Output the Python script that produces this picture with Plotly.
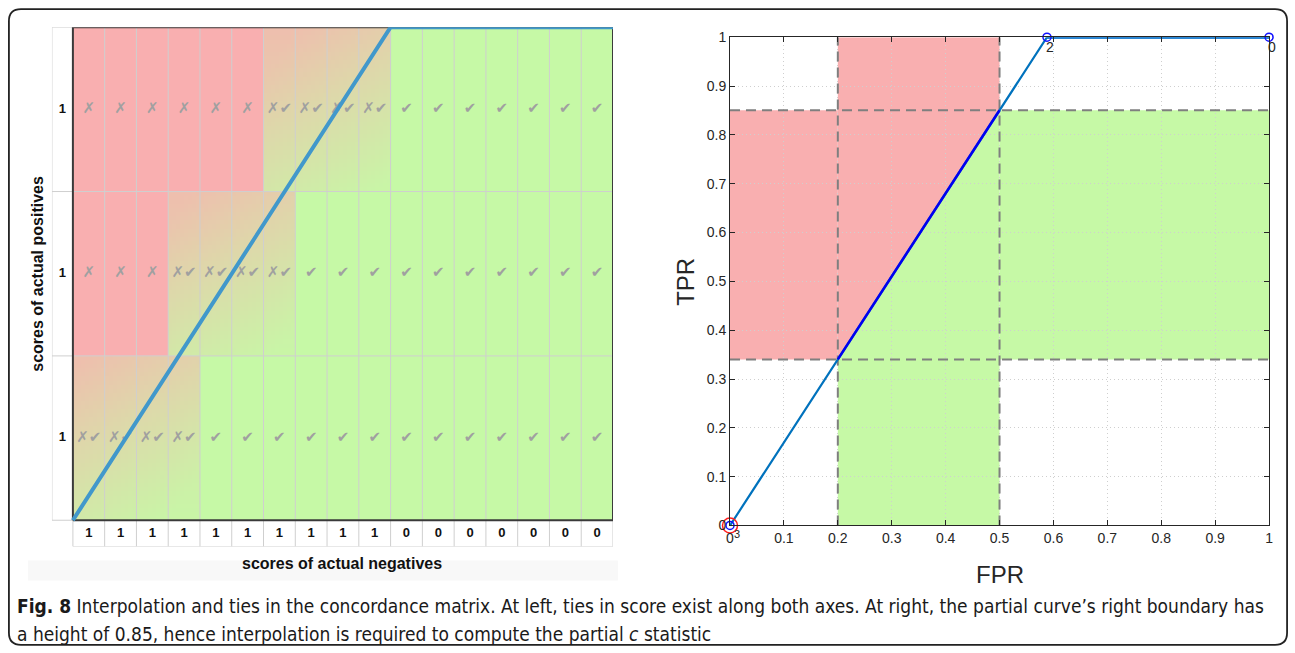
import numpy as np
import plotly.graph_objects as go

# ---------------- data ----------------
neg_scores = [1, 1, 1, 1, 1, 1, 1, 1, 1, 1, 0, 0, 0, 0, 0, 0, 0]
pos_scores = [1, 1, 1]
marks_top = ["✗", "✗", "✗", "✗", "✗", "✗", "✗✔", "✗✔", "✗✔", "✗✔",
             "✔", "✔", "✔", "✔", "✔", "✔", "✔"]
marks_middle = ["✗", "✗", "✗", "✗✔", "✗✔", "✗✔", "✗✔", "✔", "✔", "✔",
                "✔", "✔", "✔", "✔", "✔", "✔", "✔"]
marks_bottom = ["✗✔", "✗✔", "✗✔", "✗✔", "✔", "✔", "✔", "✔", "✔", "✔",
                "✔", "✔", "✔", "✔", "✔", "✔", "✔"]

roc_fpr = [0.0, 0.588, 1.0]
roc_tpr = [0.0, 1.0, 1.0]
roc_labels = ["3", "2", "0"]
fpr_range = [0.2, 0.5]

W, H = 1295, 653
SX, SY = 0.9937, 0.973          # compensation for the capture scaling
CX, CY = 648.0, 327.5
def px(x): return (CX + (x - CX) / SX) / W
def py(y): return 1 - (CY + (y - CY) / SY) / H

RED = "#F9AFB0"
GREEN = "#C6F9A6"
TAN = "#DED7AA"

fig = go.Figure()

# ---------------- left: concordance matrix ----------------
ncol, nrow = len(neg_scores), len(pos_scores)
rows_marks = [marks_bottom, marks_middle, marks_top]  # bottom -> top
cell_w_px = (613 - 52) / (ncol + 0.66)
cell_h_px = (546 - 28) / (nrow + 0.16)

# concordance path (ties -> diagonal)
thresholds = sorted(set(neg_scores + pos_scores), reverse=True)
path_x, path_y = [0], [0]
for t in thresholds:
    path_x.append(sum(1 for s in neg_scores if s >= t))
    path_y.append(sum(1 for s in pos_scores if s >= t))
tie_x, tie_y = path_x[1], path_y[1]

nsx, nsy = 8, 40
xs = (np.arange(ncol * nsx) + 0.5) / nsx
ys = (np.arange(nrow * nsy) + 0.5) / nsy
lx, ly = tie_x * cell_w_px, tie_y * cell_h_px
norm = np.hypot(lx, ly)
z = np.zeros((len(ys), len(xs)))
for j, v in enumerate(ys):
    r = int(v)
    for i, u in enumerate(xs):
        c = int(u)
        m = rows_marks[r][c]
        if m == "✗":
            z[j, i] = 0.0
        elif m == "✔":
            z[j, i] = 1.0
        else:
            d = (u * cell_w_px * ly - v * cell_h_px * lx) / norm
            zd = np.clip(0.5 + d / 160, 0, 1)
            f = v - r
            zv = 0.92 - 0.6 * f
            z[j, i] = 0.4 * zd + 0.6 * zv

fig.add_trace(go.Heatmap(
    x=xs, y=ys, z=z, zmin=0, zmax=1,
    colorscale=[[0, RED], [0.5, TAN], [1, GREEN]], showscale=False,
    hoverinfo="skip", xaxis="x", yaxis="y"))

# light grid lines
gx, gy = [], []
for i in range(1, ncol + 1):
    gx += [i, i, None]; gy += [-0.16, nrow, None]
for r in range(1, nrow):
    gx += [-0.66, ncol, None]; gy += [r, r, None]
gx += [-0.66, -0.66, None, -0.66, 0, None, -0.66, 0, None, 0, ncol, None, 0, 0, None]
gy += [0, nrow, None, nrow, nrow, None, 0, 0, None, -0.16, -0.16, None, -0.16, 0, None]
fig.add_trace(go.Scatter(x=gx, y=gy, mode="lines", line=dict(color="#CFCFCF", width=1),
                         hoverinfo="skip", showlegend=False, xaxis="x", yaxis="y",
                         cliponaxis=False))
# dark border
fig.add_trace(go.Scatter(x=[0, ncol, ncol, 0, 0], y=[0, 0, nrow, nrow, 0], mode="lines",
                         line=dict(color="#3A3A3A", width=2), hoverinfo="skip",
                         showlegend=False, xaxis="x", yaxis="y", cliponaxis=False))

# cell marks
mx, my, mt = [], [], []
for r in range(nrow):
    for c in range(ncol):
        mx.append(c + 0.5); my.append(r + 0.5); mt.append(rows_marks[r][c])
fig.add_trace(go.Scatter(x=mx, y=my, text=mt, mode="text",
                         textfont=dict(family="DejaVu Sans", size=15, color="#A0A0A0"),
                         hoverinfo="skip", showlegend=False, xaxis="x", yaxis="y"))

# score labels
fig.add_trace(go.Scatter(x=[c + 0.5 for c in range(ncol)], y=[-0.08] * ncol,
                         text=[f"<b>{s}</b>" for s in neg_scores], mode="text",
                         textfont=dict(family="Liberation Sans", size=13, color="#111111"),
                         hoverinfo="skip", showlegend=False, xaxis="x", yaxis="y",
                         cliponaxis=False))
fig.add_trace(go.Scatter(x=[-0.33] * nrow, y=[r + 0.5 for r in range(nrow)],
                         text=[f"<b>{s}</b>" for s in pos_scores], mode="text",
                         textfont=dict(family="Liberation Sans", size=13, color="#111111"),
                         hoverinfo="skip", showlegend=False, xaxis="x", yaxis="y",
                         cliponaxis=False))

# path line
fig.add_trace(go.Scatter(x=path_x, y=path_y, mode="lines",
                         line=dict(color="#4198CB", width=4),
                         hoverinfo="skip", showlegend=False, xaxis="x", yaxis="y",
                         cliponaxis=False))

# ---------------- right: ROC ----------------
tpr_range = [float(np.interp(f, roc_fpr, roc_tpr)) for f in fpr_range]
f0, f1 = fpr_range
t0, t1 = tpr_range
shapes = []
def poly(pts, color):
    p = "M " + " L ".join(f"{a},{b}" for a, b in pts) + " Z"
    shapes.append(dict(type="path", path=p, xref="x2", yref="y2", fillcolor=color,
                       line=dict(width=0), layer="below"))
poly([(0, t0), (f0, t0), (f0, t1), (0, t1)], RED)
poly([(f0, t0), (f1, t1), (f1, 1), (f0, 1)], RED)
poly([(f0, 0), (f1, 0), (f1, t1), (f0, t0)], GREEN)
poly([(f1, t0), (1, t0), (1, t1), (f1, t1)], GREEN)

# dashed boundaries
dx = [f0, f0, None, f1, f1, None, 0, 1, None, 0, 1]
dy = [0, 1, None, 0, 1, None, t0, t0, None, t1, t1]
fig.add_trace(go.Scatter(x=dx, y=dy, mode="lines",
                         line=dict(color="#7F7F7F", width=2, dash="10px,6px"),
                         hoverinfo="skip", showlegend=False, xaxis="x2", yaxis="y2"))

# ROC curve
fig.add_trace(go.Scatter(x=roc_fpr, y=roc_tpr, mode="lines",
                         line=dict(color="#0072BD", width=2.2),
                         hoverinfo="skip", showlegend=False, xaxis="x2", yaxis="y2",
                         cliponaxis=False))
fig.add_trace(go.Scatter(x=roc_fpr[1:], y=roc_tpr[1:], mode="lines",
                         line=dict(color="#2A86D4", width=3.4),
                         hoverinfo="skip", showlegend=False, xaxis="x2", yaxis="y2",
                         cliponaxis=False))
fig.add_trace(go.Scatter(x=fpr_range, y=tpr_range, mode="lines",
                         line=dict(color="#0000F0", width=2.6),
                         hoverinfo="skip", showlegend=False, xaxis="x2", yaxis="y2"))
fig.add_trace(go.Scatter(x=roc_fpr[:1], y=roc_tpr[:1], mode="markers",
                         marker=dict(symbol="circle-open", size=15, color="#FF2020",
                                     line=dict(width=1.5)),
                         hoverinfo="skip", showlegend=False, xaxis="x2", yaxis="y2",
                         cliponaxis=False))
fig.add_trace(go.Scatter(x=roc_fpr, y=roc_tpr, mode="markers",
                         marker=dict(symbol="circle-open", size=8, color="#1010FF",
                                     line=dict(width=1.5)),
                         hoverinfo="skip", showlegend=False, xaxis="x2", yaxis="y2",
                         cliponaxis=False))

annotations = []
for fx, ty, lab in zip(roc_fpr, roc_tpr, roc_labels):
    small = fx == roc_fpr[0]
    annotations.append(dict(text=lab, x=fx, y=ty, xref="x2", yref="y2", showarrow=False,
                            xanchor="center", yanchor="middle",
                            xshift=7 if small else 3, yshift=-9 if small else -10,
                            font=dict(family="Liberation Sans", size=11 if small else 14,
                                      color="#262626")))

# outer rounded border & gray band
x0, x1, y0, y1, rr = 9, 1287, 10, 644, 12
def P(x, y): return f"{px(x)},{py(y)}"
border = (f"M {P(x0 + rr, y0)} L {P(x1 - rr, y0)} Q {P(x1, y0)} {P(x1, y0 + rr)} "
          f"L {P(x1, y1 - rr)} Q {P(x1, y1)} {P(x1 - rr, y1)} L {P(x0 + rr, y1)} "
          f"Q {P(x0, y1)} {P(x0, y1 - rr)} L {P(x0, y0 + rr)} Q {P(x0, y0)} {P(x0 + rr, y0)} Z")
shapes.append(dict(type="path", path=border, xref="paper", yref="paper",
                   line=dict(color="#222222", width=1.8), layer="above"))
shapes.append(dict(type="rect", xref="paper", yref="paper", x0=px(28), x1=px(618),
                   y0=py(580), y1=py(560), fillcolor="#F8F8F8", line=dict(width=0),
                   layer="below"))

cap_font = dict(family="Liberation Sans Narrow, DejaVu Sans Condensed, Liberation Sans",
                size=19, color="#1a1a1a")
annotations += [
    dict(text="<b>scores of actual negatives</b>", x=px(342), y=py(563), xref="paper",
         yref="paper", showarrow=False, xanchor="center", yanchor="middle",
         font=dict(family="Liberation Sans", size=16, color="#111111")),
    dict(text="<b>scores of actual positives</b>", x=px(38), y=py(274), xref="paper",
         yref="paper", showarrow=False, textangle=-90, xanchor="center", yanchor="middle",
         font=dict(family="Liberation Sans", size=16, color="#111111")),
    dict(text="FPR", x=px(1000), y=py(574), xref="paper", yref="paper", showarrow=False,
         xanchor="center", yanchor="middle",
         font=dict(family="Liberation Sans", size=24, color="#262626")),
    dict(text="TPR", x=px(686), y=py(282), xref="paper", yref="paper", showarrow=False,
         textangle=-90, xanchor="center", yanchor="middle",
         font=dict(family="Liberation Sans", size=24, color="#262626")),
    dict(text="<b>Fig. 8</b> Interpolation and ties in the concordance matrix. At left, ties in "
              "score exist along both axes. At right, the partial curve’s right boundary has",
         x=px(15), y=py(605), xref="paper", yref="paper", xanchor="left", yanchor="middle",
         showarrow=False, font=cap_font),
    dict(text="a height of 0.85, hence interpolation is required to compute the partial "
              "<i>c</i> statistic",
         x=px(15), y=py(633), xref="paper", yref="paper", xanchor="left", yanchor="middle",
         showarrow=False, font=cap_font),
]

axis_common = dict(range=[0, 1], dtick=0.1, tick0=0, showgrid=True, gridcolor="#CFCFCF",
                   griddash="1px,3px", gridwidth=1, zeroline=False, showline=True,
                   linecolor="#262626", linewidth=1, mirror="ticks", ticks="inside",
                   ticklen=5, tickcolor="#262626",
                   tickfont=dict(family="Liberation Sans", size=14, color="#262626"))

fig.update_layout(
    width=W, height=H, margin=dict(l=0, r=0, t=0, b=0),
    paper_bgcolor="white", plot_bgcolor="white", showlegend=False,
    shapes=shapes, annotations=annotations,
    xaxis=dict(domain=[px(52), px(613)], range=[-0.66, ncol], visible=False,
               fixedrange=True),
    yaxis=dict(domain=[py(546), py(28)], range=[-0.16, nrow], visible=False,
               fixedrange=True),
    xaxis2=dict(domain=[px(730), px(1269)], anchor="y2", **axis_common),
    yaxis2=dict(domain=[py(525), py(38)], anchor="x2", **axis_common),
)

fig.write_html("out.html", config={"displayModeBar": False},
               post_script="document.body.style.margin='0px';"
                           "document.documentElement.style.overflow='hidden';"
                           "document.body.style.overflow='hidden';")
